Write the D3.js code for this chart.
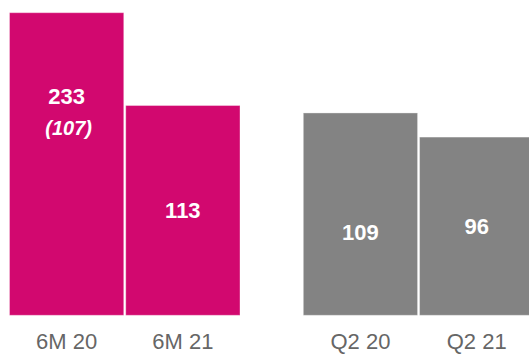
<!DOCTYPE html>
<html>
<head>
<meta charset="utf-8">
<script src="https://cdn.jsdelivr.net/npm/d3@7"></script>
<style>
  html, body { margin: 0; padding: 0; background: #fff; }
  svg { display: block; font-family: "Liberation Sans", Arial, Helvetica, sans-serif; }
</style>
</head>
<body>
<svg id="chart" width="529" height="354"></svg>
<script>
// Periods and their values
const categories = ["6M 20", "6M 21", "Q2 20", "Q2 21"];
const groups = ["6M", "6M", "Q2", "Q2"];
const values = [233, 113, 109, 96];
const subLabels = ["(107)", "", "", ""];

// Colour per period group
const groupColors = { "6M": "#D2086F", "Q2": "#838383" };

// Vertical shift of each value label from the bar's centre (px)
const labelNudge = [-67.7, 0, 18, 0];

const W = 529, H = 354;
const baseY = 315.3, topY = 12.7;
// Axis is capped: taller bars run off the top of the plot
const yMax = 163;

const svg = d3.select("#chart");

const groupNames = Array.from(new Set(groups));
const x0 = d3.scaleBand()
  .domain(groupNames)
  .range([9.5, 533.8])
  .paddingInner(0.2155)
  .paddingOuter(0);

const x1 = d3.scaleBand()
  .domain([0, 1])
  .range([0, x0.bandwidth()])
  .paddingInner(0.017)
  .paddingOuter(0);

const y = d3.scaleLinear()
  .domain([0, yMax])
  .range([baseY, topY])
  .clamp(true);

const data = categories.map((c, i) => ({
  cat: c,
  group: groups[i],
  idx: groups.slice(0, i).filter(g => g === groups[i]).length,
  value: values[i],
  sub: subLabels[i],
  nudge: labelNudge[i]
}));

const xPos = d => x0(d.group) + x1(d.idx);
const bw = x1.bandwidth();

// Bars
svg.append("g")
  .selectAll("rect")
  .data(data)
  .join("rect")
  .attr("x", xPos)
  .attr("y", d => y(d.value))
  .attr("width", bw)
  .attr("height", d => y(0) - y(d.value))
  .attr("fill", d => groupColors[d.group])
  .attr("stroke", "rgba(255,255,255,0.35)")
  .attr("stroke-width", 1);

// Value labels
const fs = 22;
const capHalf = fs * 0.716 / 2;
const labels = svg.append("g")
  .selectAll("g")
  .data(data)
  .join("g")
  .attr("transform", d => {
    const cx = xPos(d) + bw / 2;
    const cy = (y(d.value) + y(0)) / 2 + d.nudge;
    return `translate(${cx},${cy})`;
  });

labels.append("text")
  .attr("text-anchor", "middle")
  .attr("y", capHalf)
  .attr("fill", "#fff")
  .attr("font-size", fs)
  .attr("font-weight", "bold")
  .text(d => d.value);

labels.filter(d => d.sub)
  .append("text")
  .attr("text-anchor", "middle")
  .attr("x", 2)
  .attr("y", capHalf + 31)
  .attr("fill", "#fff")
  .attr("font-size", 20)
  .attr("font-weight", "bold")
  .attr("font-style", "italic")
  .text(d => d.sub);

// Category axis
const xAxisG = svg.append("g");
xAxisG.selectAll("text")
  .data(data)
  .join("text")
  .attr("x", d => xPos(d) + bw / 2)
  .attr("y", 349)
  .attr("text-anchor", "middle")
  .attr("fill", "#666")
  .attr("font-size", 22)
  .text(d => d.cat);
</script>
</body>
</html>
